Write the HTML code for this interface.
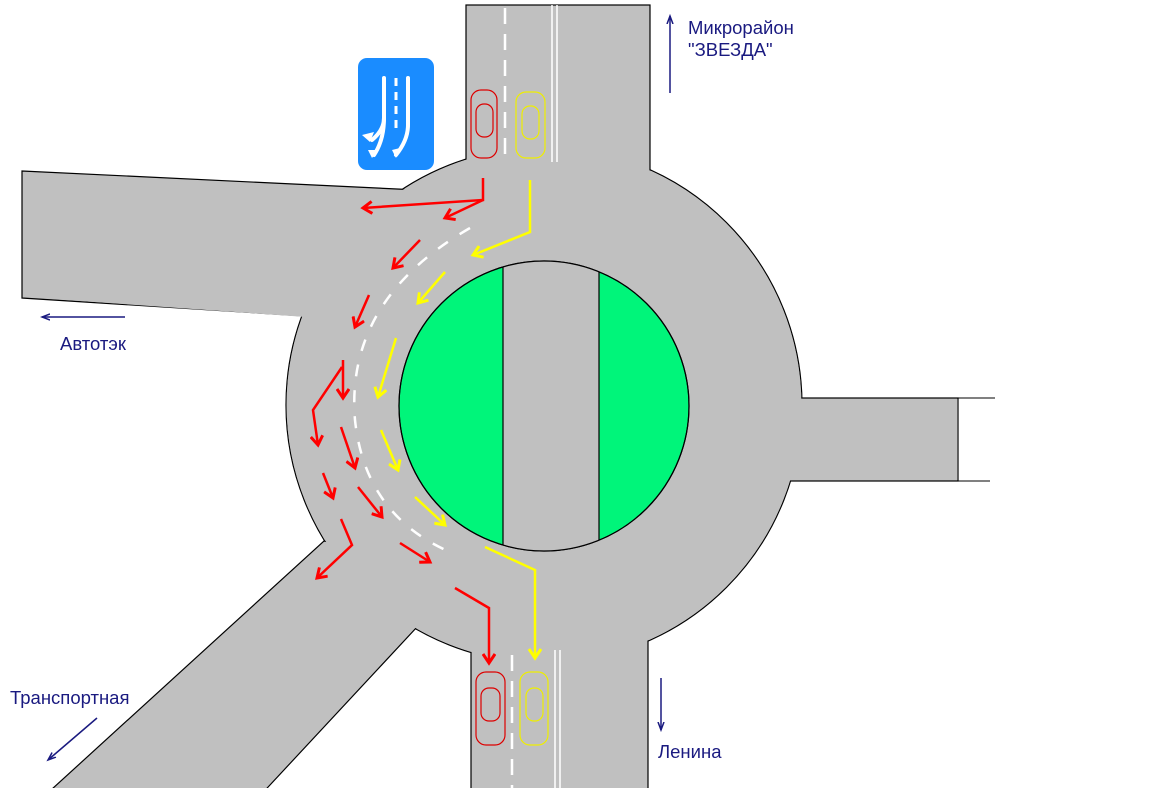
<!DOCTYPE html>
<html><head><meta charset="utf-8"><style>
body{margin:0;background:#fff;width:1152px;height:788px;overflow:hidden}
svg{display:block}
text{font-family:"Liberation Sans",sans-serif;font-size:18.5px;fill:#1a1a80}
</style></head><body>
<svg width="1152" height="788" viewBox="0 0 1152 788">
<defs>
<marker id="mr" markerWidth="14" markerHeight="14" refX="10" refY="7" orient="auto" markerUnits="userSpaceOnUse"><path d="M1,1 L10,7 L1,13" fill="none" stroke="#f00" stroke-width="3"/></marker>
<marker id="my" markerWidth="14" markerHeight="14" refX="10" refY="7" orient="auto" markerUnits="userSpaceOnUse"><path d="M1,1 L10,7 L1,13" fill="none" stroke="#ff0" stroke-width="3"/></marker>
<marker id="mb" markerWidth="10" markerHeight="10" refX="8" refY="5" orient="auto" markerUnits="userSpaceOnUse"><path d="M0,2 L8,5 L0,8" fill="none" stroke="#1a1a80" stroke-width="1.5"/></marker>
<clipPath id="ic"><circle cx="544" cy="406" r="145"/></clipPath>
</defs>
<g fill="#c0c0c0" stroke="#000" stroke-width="1.2">
<circle cx="544" cy="405" r="258"/>
<rect x="466" y="5" width="184" height="200"/>
<polygon points="22,171 418,190 466,175 470,330 305,330 305,316 22,298"/>
<rect x="700" y="398" width="258" height="83"/>
<rect x="471" y="560" width="177" height="240"/>
<polygon points="324,541 430,560 417,627 256,800 40,800"/>
</g>
<g fill="#c0c0c0">
<circle cx="544" cy="405" r="257.4"/>
<rect x="467" y="6" width="182" height="200"/>
<polygon points="23,172 418,191 466,176 470,330 306,330 306,317 23,297"/>
<rect x="700" y="399" width="257.4" height="81"/>
<rect x="472" y="560" width="175" height="240"/>
<polygon points="324,542 430,560 416,627 255,800 42,800"/>
</g>
<line x1="958" y1="398" x2="995" y2="398" stroke="#000"/>
<line x1="958" y1="481" x2="990" y2="481" stroke="#000"/>
<circle cx="544" cy="406" r="145" fill="#00f57a" stroke="#000" stroke-width="1.2"/>
<rect x="503" y="250" width="96" height="310" fill="#c0c0c0" stroke="#000" stroke-width="1.2" clip-path="url(#ic)"/>
<circle cx="544" cy="406" r="145" fill="none" stroke="#000" stroke-width="1.2"/>
<line x1="505" y1="8" x2="505" y2="158" stroke="#fff" stroke-width="2.5" stroke-dasharray="16,10"/>
<line x1="552" y1="5" x2="552" y2="162" stroke="#fff" stroke-width="1.5"/>
<line x1="557" y1="5" x2="557" y2="162" stroke="#fff" stroke-width="1.5"/>
<line x1="512" y1="655" x2="512" y2="788" stroke="#fff" stroke-width="2.5" stroke-dasharray="16,10"/>
<line x1="555" y1="650" x2="555" y2="788" stroke="#fff" stroke-width="1.5"/>
<line x1="560" y1="650" x2="560" y2="788" stroke="#fff" stroke-width="1.5"/>
<path d="M470,228 Q345,300 355,420 Q365,515 450,552" fill="none" stroke="#fff" stroke-width="2.5" stroke-dasharray="12,14"/>
<g fill="none" stroke-width="1.2">
<rect x="471" y="90" width="26" height="68" rx="10" stroke="#d00"/><rect x="476" y="104" width="17" height="33" rx="8" stroke="#d00"/>
<rect x="516" y="92" width="29" height="66" rx="10" stroke="#ee0"/><rect x="522" y="106" width="17" height="33" rx="8" stroke="#ee0"/>
<rect x="476" y="672" width="29" height="73" rx="10" stroke="#d00"/><rect x="481" y="688" width="19" height="33" rx="8" stroke="#d00"/>
<rect x="520" y="672" width="28" height="73" rx="10" stroke="#ee0"/><rect x="526" y="688" width="17" height="33" rx="8" stroke="#ee0"/>
</g>
<rect x="358" y="58" width="76" height="112" rx="9" fill="#1a8cff"/>
<g stroke="#fff" stroke-width="4" fill="none" stroke-linecap="round">
<path d="M384,78 L384,118 Q384,130 372,140"/><path d="M384,118 Q384,140 374,155"/>
<path d="M408,78 L408,125 Q408,140 396,155"/>
</g>
<line x1="396" y1="78" x2="396" y2="130" stroke="#fff" stroke-width="3" stroke-dasharray="8,6"/>
<path d="M362,135 L374,132 L370,142 Z M368,150 L378,150 L372,158 Z M392,150 L400,148 L396,158 Z" fill="#fff"/>
<g fill="none" stroke="#f00" stroke-width="2.5" marker-end="url(#mr)">
<polyline points="483,178 483,200 363,208"/>
<polyline points="483,200 445,218"/>
<polyline points="420,240 393,268"/>
<polyline points="369,295 355,327"/>
<polyline points="343,360 343,398"/>
<polyline points="342,367 313,410 318,445"/>
<polyline points="341,427 355,468"/>
<polyline points="323,473 333,498"/>
<polyline points="341,519 352,545 317,578"/>
<polyline points="358,487 382,517"/>
<polyline points="400,543 430,562"/>
<polyline points="455,588 489,608 489,663"/>
</g>
<g fill="none" stroke="#ff0" stroke-width="2.5" marker-end="url(#my)">
<polyline points="530,180 530,232 473,255"/>
<polyline points="445,272 418,303"/>
<polyline points="396,338 378,397"/>
<polyline points="381,430 398,470"/>
<polyline points="415,497 445,525"/>
<polyline points="485,547 535,570 535,658"/>
</g>
<g stroke="#1a1a80" stroke-width="1.5" marker-end="url(#mb)">
<line x1="670" y1="93" x2="670" y2="16"/>
<line x1="125" y1="317" x2="42" y2="317"/>
<line x1="97" y1="718" x2="48" y2="760"/>
<line x1="661" y1="678" x2="661" y2="730"/>
</g>
<text x="688" y="34">Микрорайон</text>
<text x="688" y="56">"ЗВЕЗДА"</text>
<text x="60" y="350">Автотэк</text>
<text x="10" y="704">Транспортная</text>
<text x="658" y="758">Ленина</text>
</svg>
</body></html>
